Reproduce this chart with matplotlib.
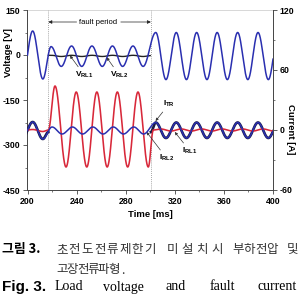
import numpy as np
import matplotlib
matplotlib.use('Agg')
import matplotlib.pyplot as plt
from matplotlib.ticker import MultipleLocator

plt.rcParams['font.family'] = ['Liberation Sans', 'DejaVu Sans']
plt.rcParams['font.weight'] = 'bold'
plt.rcParams['axes.unicode_minus'] = False
plt.rcParams['mathtext.fontset'] = 'custom'
plt.rcParams['mathtext.bf'] = 'Liberation Sans:bold'
plt.rcParams['mathtext.rm'] = 'Liberation Sans:bold'

# ---------------- data (extrema) ----------------
# load voltage V_RL1 [V] : time of each peak/trough [ms] and value
vrl1_t = [195.8, 204.2, 212.5, 219.2, 227.5, 235.9, 244.2, 252.5, 260.9, 269.2, 277.5, 285.9, 294.2,
          304.5, 312.8, 321.2, 329.5, 337.8, 346.2, 354.5, 362.8, 371.2, 379.5, 387.8, 396.2, 404.5]
vrl1_v = [-80, 80, -80, 28, -38, 30, -38, 30, -38, 30, -38, 30, -38,
          75, -82, 75, -82, 75, -82, 75, -82, 75, -82, 75, -82, 75]

# load voltage V_RL2 [V] during the fault
vrl2_t = [217.0, 219.2, 227.5, 235.9, 244.2, 252.5, 260.9, 269.2, 277.5, 285.9, 294.2, 300.0]
vrl2_v = [-1, -1, -5, -1, -5, -1, -5, -1, -5, -1, -5, -2]

# load current I_RL1 [A]
irl1_t = [195.8, 204.2, 212.5, 220.0, 228.2, 236.6, 244.9, 253.2, 261.6, 269.9, 278.2, 286.6, 294.6,
          304.5, 312.8, 321.2, 329.5, 337.8, 346.2, 354.5, 362.8, 371.2, 379.5, 387.8, 396.2, 404.5]
irl1_v = [-8.5, 8, -9, 3, -4, 3, -4, 3, -4, 3, -4, 3, -4,
          7.5, -8, 7.5, -8, 7.5, -8, 7.5, -8, 7.5, -8, 7.5, -8, 7.5]

# fault current I_RL2 [A]
irl2_t = [195.8, 204.2, 212.5, 217.0, 222.4, 231.4, 239.7, 248.3, 256.5, 264.9, 273.2, 281.6, 290.0, 298.4,
          302.5, 308.6, 316.9, 325.3, 333.6, 341.9, 350.3, 358.6, 366.9, 375.3, 383.6, 391.9, 400.3, 405.0]
irl2_v = [-0.5, 0.5, -1.5, 0, 44, -37, 38, -37, 38, -37, 38, -37, 38, -37,
          0, 1, -1, 1, -1, 1, -1, 1, -1, 1, -1, 1, -1, 0]

# transformer current I_TR [A] (before and after the fault)
itr_pre_t = [195.8, 204.2, 212.5, 217.0]
itr_pre_v = [-8.5, 8, -9, -2]
itr_post_t = [300.5, 304.5, 312.8, 321.2, 329.5, 337.8, 346.2, 354.5, 362.8, 371.2, 379.5, 387.8, 396.2, 404.5]
itr_post_v = [-2, 7.5, -8, 7.5, -8, 7.5, -8, 7.5, -8, 7.5, -8, 7.5, -8, 7.5]

fault_start, fault_end = 217.0, 300.5

x_ticks = [200, 240, 280, 320, 360, 400]
v_ticks = [-450, -300, -150, 0, 150]
i_ticks = [-60, 0, 60, 120]


def wave(tk, vk, t):
    tk = np.asarray(tk, float)
    vk = np.asarray(vk, float)
    i = np.clip(np.searchsorted(tk, t, side='right') - 1, 0, len(tk) - 2)
    s = np.clip((t - tk[i]) / (tk[i + 1] - tk[i]), 0, 1)
    return vk[i] + (vk[i + 1] - vk[i]) * (1 - np.cos(np.pi * s)) / 2


BLUE = '#2a2fb0'
RED = '#d8283a'

W, H = 302, 297
fig = plt.figure(figsize=(W / 100, H / 100), dpi=100)
x0, x1, y0, y1 = 27.5, 273, 10, 190
ax = fig.add_axes([x0 / W, 1 - y1 / H, (x1 - x0) / W, (y1 - y0) / H])
ax2 = ax.twinx()

t = np.linspace(195, 405, 5000)

# voltages
m = (t >= vrl2_t[0]) & (t <= vrl2_t[-1])
ax.plot(t[m], wave(vrl2_t, vrl2_v, t[m]), color='#222222', lw=1.0, zorder=2)
ax.plot(t, wave(vrl1_t, vrl1_v, t), color=BLUE, lw=1.1, zorder=3)

# currents
tp = t[t <= itr_pre_t[-1]]
ax2.plot(tp, wave(itr_pre_t, itr_pre_v, tp), color='#1a1a40', lw=1.9, zorder=2)
tq = t[t >= itr_post_t[0]]
ax2.plot(tq, wave(itr_post_t, itr_post_v, tq), color='#1a1a40', lw=1.9, zorder=2)
ax2.plot(t, wave(irl2_t, irl2_v, t), color=RED, lw=1.15, zorder=3)
ax2.plot(t, wave(irl1_t, irl1_v, t), color=BLUE, lw=1.1, zorder=4)

for fx in (fault_start, fault_end):
    ax.axvline(fx, color='#888888', lw=0.6, ls=(0, (1, 1.5)), zorder=1)

ax.set_xlim(200, 400)
ax.set_ylim(-450, 150)
ax2.set_ylim(-60, 120)
ax.set_xticks(x_ticks)
ax.set_yticks(v_ticks)
ax2.set_yticks(i_ticks)
ax.xaxis.set_minor_locator(MultipleLocator(20))
ax.yaxis.set_minor_locator(MultipleLocator(75))
ax2.yaxis.set_minor_locator(MultipleLocator(30))

for a in (ax, ax2):
    a.tick_params(which='major', direction='out', length=3, width=0.6, labelsize=6.3, pad=2, color='#444444')
    a.tick_params(which='minor', direction='out', length=1.6, width=0.5, color='#444444')
    for sp in a.spines.values():
        sp.set_color('#444444')
        sp.set_linewidth(0.7)
ax.spines['right'].set_visible(False)
ax.spines['top'].set_color('#c8c8c8')
ax.spines['top'].set_linewidth(0.5)
for s in ('left', 'top', 'bottom'):
    ax2.spines[s].set_visible(False)

ax.set_ylabel('Voltage [V]', fontsize=6.8, fontweight='bold')
ax.yaxis.set_label_coords(-0.058, 0.764)
ax2.set_ylabel('Current [A]', fontsize=6.8, fontweight='bold', rotation=270)
ax2.yaxis.set_label_coords(1.09, 0.34)
ax.set_xlabel('Time [ms]', fontsize=6.8, fontweight='bold', labelpad=3)

# fault period arrows
ax.text(257.8, 110, 'fault period', fontsize=5.5, ha='center', va='center', fontweight='normal')
ap = dict(arrowstyle='-|>', lw=0.5, color='#222222', mutation_scale=5, shrinkA=0, shrinkB=0)
ax.annotate('', xy=(fault_start, 110), xytext=(240, 110), arrowprops=ap)
ax.annotate('', xy=(fault_end, 110), xytext=(276, 110), arrowprops=ap)

# curve labels
lp = dict(arrowstyle='-|>', lw=0.5, color='#333333', mutation_scale=4, shrinkA=0, shrinkB=0)
ax.annotate(r'$\mathbf{V}_{\mathbf{RL1}}$', xy=(234.6, -2), xytext=(238.5, -66),
            fontsize=6, ha='left', va='center', arrowprops=lp)
ax.annotate(r'$\mathbf{V}_{\mathbf{RL2}}$', xy=(264.5, -8), xytext=(267.0, -66),
            fontsize=6, ha='left', va='center', arrowprops=lp)
ax2.annotate(r'$\mathbf{I}_{\mathbf{TR}}$', xy=(304.3, 9), xytext=(310.5, 26),
             fontsize=6, ha='left', va='center', arrowprops=lp)
ax2.annotate(r'$\mathbf{I}_{\mathbf{RL1}}$', xy=(320.0, -2), xytext=(326.0, -21),
             fontsize=6, ha='left', va='center', arrowprops=lp)
ax2.annotate(r'$\mathbf{I}_{\mathbf{RL2}}$', xy=(297.0, -2), xytext=(307.0, -28),
             fontsize=6, ha='left', va='center', arrowprops=lp)

# caption
def ft(xp, yp, s, **kw):
    fig.text(xp / W, 1 - yp / H, s, va='center', ha='left', **kw)


kr = ['Noto Sans CJK KR', 'DejaVu Sans']


def spaced(xs, xe, yp, word, size=9):
    # distribute the characters of a Korean word evenly between xs and xe
    n = len(word)
    cw = 10.5
    pitch = (xe - xs - cw) / (n - 1) if n > 1 else 0
    for k, ch in enumerate(word):
        ft(xs + k * pitch, yp, ch, family=kr, fontsize=size, fontweight='normal', color='#333333')


ft(2.5, 249.5, '그림 3.', family=kr, fontsize=9.3, fontweight='bold')
spaced(56, 155, 249.5, '초전도전류제한기')
spaced(167, 222, 249.5, '미설치시')
spaced(232, 277, 249.5, '부하전압')
ft(287, 249.5, '및', family=kr, fontsize=9, fontweight='normal', color='#333333')
spaced(56, 119, 270, '고장전류파형')
ft(121, 270, '.', family=kr, fontsize=9, fontweight='normal', color='#333333')
ft(2.5, 287, 'Fig. 3.', family=['Liberation Sans'], fontsize=11, fontweight='bold')
ser = ['Liberation Serif']
ft(55, 287, 'Load', family=ser, fontsize=10, fontweight='normal')
ft(103, 287, 'voltage', family=ser, fontsize=10, fontweight='normal')
ft(166, 287, 'and', family=ser, fontsize=10, fontweight='normal')
ft(210, 287, 'fault', family=ser, fontsize=10, fontweight='normal')
ft(257, 287, 'current', family=ser, fontsize=10, fontweight='normal')

fig.savefig('out.png', dpi=100)
